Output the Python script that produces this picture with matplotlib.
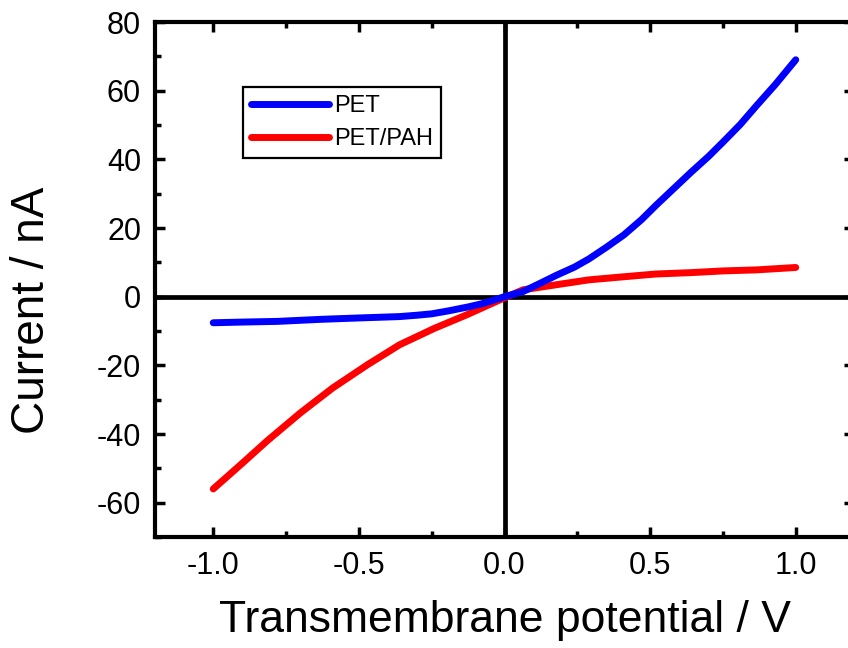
import matplotlib.pyplot as plt
from matplotlib.ticker import MultipleLocator

plt.rcParams['font.family'] = ['Liberation Sans', 'DejaVu Sans']
plt.rcParams['axes.unicode_minus'] = False

# potential (V) and current (nA)
v_pet = [-1.0, -0.9, -0.78, -0.63, -0.5, -0.36, -0.3, -0.25, -0.19, -0.12, -0.07, 0.0,
         0.064, 0.12, 0.18, 0.24, 0.29, 0.35, 0.41, 0.47, 0.52, 0.58, 0.64, 0.7,
         0.75, 0.81, 0.865, 0.93, 1.0]
i_pet = [-7.6, -7.4, -7.2, -6.6, -6.2, -5.8, -5.4, -5.0, -4.1, -2.9, -1.9, 0.0,
         1.5, 3.8, 6.3, 8.6, 11.0, 14.4, 18.0, 22.4, 26.6, 31.4, 36.2, 40.8,
         45.0, 50.2, 55.6, 61.8, 69.0]

v_pah = [-1.0, -0.9, -0.815, -0.7, -0.59, -0.47, -0.36, -0.24, -0.13, -0.015,
         0.064, 0.18, 0.29, 0.41, 0.52, 0.64, 0.75, 0.865, 1.0]
i_pah = [-56.0, -48.5, -42.0, -33.8, -26.6, -19.8, -14.0, -9.2, -5.3, -0.9,
         2.0, 3.5, 4.9, 5.8, 6.6, 7.0, 7.5, 7.8, 8.5]

labels = ['PET', 'PET/PAH']

fig = plt.figure(figsize=(8.48, 6.48), dpi=100)
ax = fig.add_axes([155/848, 1 - 537/648, 699/848, 515/648])

ax.axhline(0, color='black', lw=3.4, zorder=1)
ax.axvline(0, color='black', lw=3.4, zorder=1)

ax.plot(v_pet, i_pet, color='#0000ff', lw=5, solid_capstyle='round', label=labels[0], zorder=3)
ax.plot(v_pah, i_pah, color='#ff0000', lw=5, solid_capstyle='round', label=labels[1], zorder=2)

ax.set_xlim(-1.2, 1.2)
ax.set_ylim(-70, 80)

ax.xaxis.set_major_locator(MultipleLocator(0.5))
ax.xaxis.set_minor_locator(MultipleLocator(0.25))
ax.yaxis.set_major_locator(MultipleLocator(20))
ax.yaxis.set_minor_locator(MultipleLocator(10))
ax.xaxis.set_major_formatter(plt.FuncFormatter(lambda v, p: '%.1f' % v))

for s in ax.spines.values():
    s.set_linewidth(3)

ax.tick_params(which='both', direction='in', top=True, right=True, width=2.5, labelsize=22, pad=10)
ax.tick_params(which='major', length=7)
ax.tick_params(which='minor', length=4.5)

ax.set_xlabel('Transmembrane potential / V', fontsize=32, labelpad=14)
ax.set_ylabel('Current / nA', fontsize=33)
ax.yaxis.set_label_coords(-0.145, 0.44)

leg = ax.legend(loc='upper left', bbox_to_anchor=(243/848, 1 - 87/648),
                bbox_transform=fig.transFigure, borderaxespad=0,
                fontsize=17, handlelength=3.3, handletextpad=0.2,
                labelspacing=0.45, borderpad=0.35, fancybox=False,
                edgecolor='black', framealpha=1)
leg.get_frame().set_linewidth(1.6)

fig.savefig('out.png', dpi=100)
